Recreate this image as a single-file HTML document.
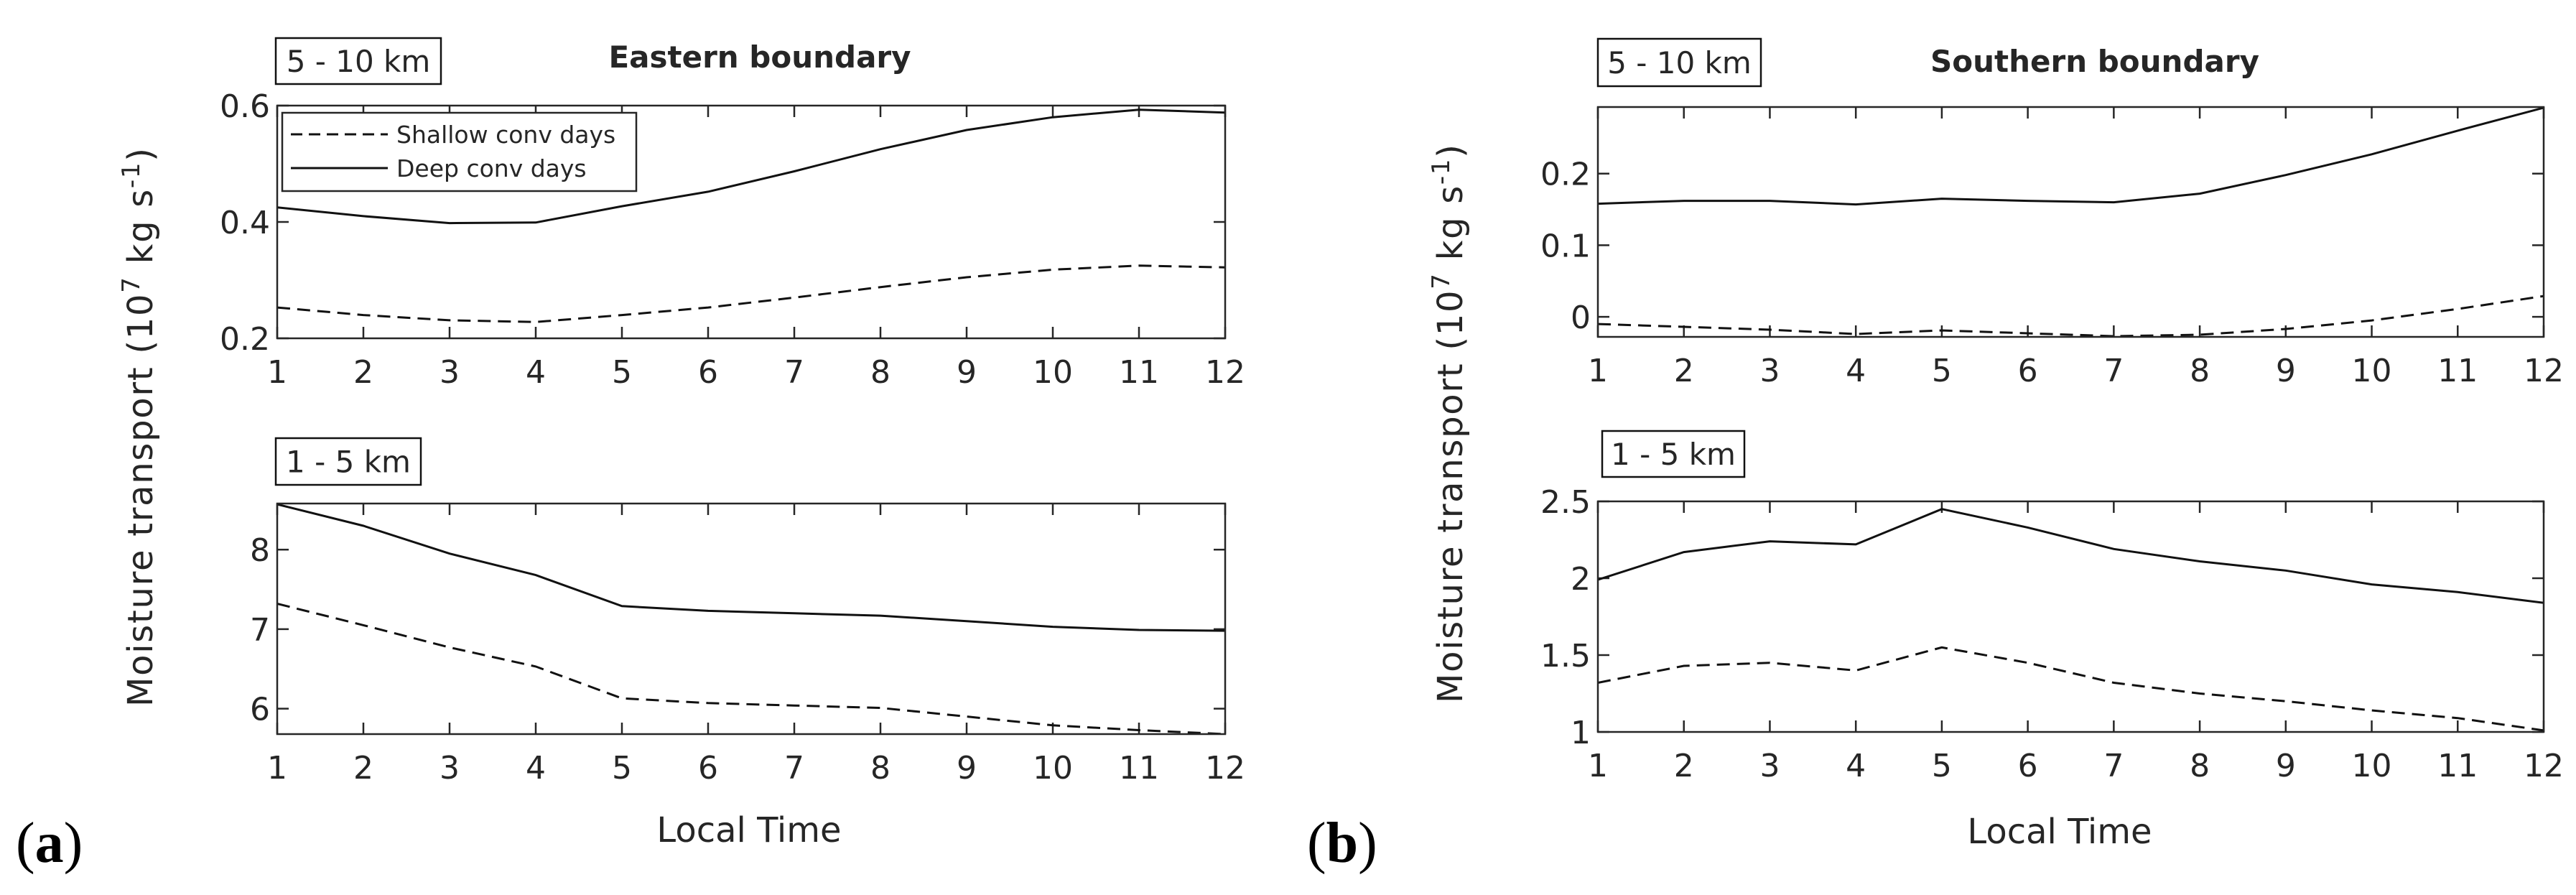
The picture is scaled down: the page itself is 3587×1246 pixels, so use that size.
<!DOCTYPE html>
<html><head><meta charset="utf-8">
<style>
html,body{margin:0;padding:0;background:#fff;}
svg{display:block;}
text{font-family:"DejaVu Sans","Liberation Sans",sans-serif;fill:#262626;}
text.serif{font-family:"Liberation Serif","DejaVu Serif",serif;fill:#000;}
</style></head>
<body>
<svg id="fig" width="3587" height="1246" viewBox="0 0 3587 1246" xmlns="http://www.w3.org/2000/svg">
  <rect x="0" y="0" width="3587" height="1246" fill="#fff"/>
  <g id="root"></g>
</svg>
<script>
const hours = [1,2,3,4,5,6,7,8,9,10,11,12];
const xTicks = [1,2,3,4,5,6,7,8,9,10,11,12];
// Eastern boundary 5-10 km
const eastUpperDeep = [0.425,0.41,0.398,0.399,0.427,0.452,0.487,0.525,0.558,0.58,0.593,0.588];
const eastUpperShallow = [0.253,0.24,0.231,0.228,0.24,0.253,0.27,0.288,0.305,0.318,0.325,0.322];
const eastUpperTicks = [0.2,0.4,0.6];
const eastUpperTickLabels = ["0.2","0.4","0.6"];
// Eastern boundary 1-5 km
const eastLowerDeep = [8.57,8.3,7.95,7.68,7.29,7.23,7.2,7.17,7.1,7.03,6.99,6.98];
const eastLowerShallow = [7.32,7.05,6.77,6.53,6.13,6.07,6.04,6.01,5.9,5.79,5.73,5.68];
const eastLowerTicks = [6,7,8];
const eastLowerTickLabels = ["6","7","8"];
// Southern boundary 5-10 km
const southUpperDeep = [0.158,0.162,0.162,0.157,0.165,0.162,0.16,0.172,0.198,0.227,0.26,0.292];
const southUpperShallow = [-0.01,-0.014,-0.018,-0.024,-0.019,-0.023,-0.027,-0.025,-0.017,-0.005,0.011,0.029];
const southUpperTicks = [0,0.1,0.2];
const southUpperTickLabels = ["0","0.1","0.2"];
// Southern boundary 1-5 km
const southLowerDeep = [1.99,2.17,2.24,2.22,2.45,2.33,2.19,2.11,2.05,1.96,1.91,1.84];
const southLowerShallow = [1.32,1.43,1.45,1.4,1.55,1.45,1.32,1.25,1.2,1.14,1.09,1.01];
const southLowerTicks = [1,1.5,2,2.5];
const southLowerTickLabels = ["1","1.5","2","2.5"];

const NS = "http://www.w3.org/2000/svg";
const root = document.getElementById('root');
function mk(tag, attrs, parent){
  const e = document.createElementNS(NS, tag);
  for (const k in attrs) e.setAttribute(k, attrs[k]);
  (parent||root).appendChild(e);
  return e;
}

function panel(name, box, xr, yr, yTicks, yLabels, deep, shallow, label, labelBox){
  const g = mk('g', {});
  
  
  const [L,T,R,B] = box;
  const sx = v => L + (v - xr[0]) / (xr[1]-xr[0]) * (R-L);
  const sy = v => B - (v - yr[0]) / (yr[1]-yr[0]) * (B-T);
  xTicks.forEach((t,i) => {
    const x = sx(t);
    const tb = mk('line', {x1:x,x2:x,y1:B,y2:B-16,stroke:'#262626','stroke-width':2.5}, g);
    
    
    mk('line', {x1:x,x2:x,y1:T,y2:T+16,stroke:'#262626','stroke-width':2.5}, g);
    const tx = mk('text', {x:x,y:B+62,'font-size':44,'text-anchor':'middle'}, g);
    tx.textContent = String(t);
    
    
  });
  yTicks.forEach((t,i) => {
    const y = sy(t);
    const tl = mk('line', {x1:L,x2:L+16,y1:y,y2:y,stroke:'#262626','stroke-width':2.5}, g);
    
    
    mk('line', {x1:R,x2:R-16,y1:y,y2:y,stroke:'#262626','stroke-width':2.5}, g);
    const ty = mk('text', {x:L-10,y:y+16,'font-size':44,'text-anchor':'end'}, g);
    ty.textContent = yLabels[i];
    
    
  });
  const cid = name + '-clip';
  const cp = mk('clipPath', {id:cid}, g);
  mk('rect', {x:L,y:T,width:R-L,height:B-T}, cp);
  const pts = arr => arr.map((v,i) => sx(hours[i]).toFixed(1)+','+sy(v).toFixed(1)).join(' ');
  const ls = mk('polyline', {points:pts(shallow),fill:'none',stroke:'#111','stroke-width':3,'stroke-dasharray':'18,10','clip-path':'url(#'+cid+')'}, g);
  
  
  const ld = mk('polyline', {points:pts(deep),fill:'none',stroke:'#111','stroke-width':3,'clip-path':'url(#'+cid+')'}, g);
  
  
  const fr = mk('rect', {x:L,y:T,width:R-L,height:B-T,fill:'none',stroke:'#262626','stroke-width':2.5}, g);
  
  
  const [bx,by,bw,bh] = labelBox;
  const lb = mk('rect', {x:bx,y:by,width:bw,height:bh,fill:'#fff',stroke:'#111','stroke-width':2.5}, g);
  
  
  const lt = mk('text', {x:bx+bw/2,y:by+bh/2+15,'font-size':42,'text-anchor':'middle',fill:'#111'}, g);
  lt.textContent = label;
  
  
}

panel('east-upper-plot', [386,147,1706,471], [1,12], [0.2,0.6], eastUpperTicks, eastUpperTickLabels, eastUpperDeep, eastUpperShallow, '5 - 10 km', [384,53,230,64]);
panel('east-lower-plot', [386,701,1706,1022], [1,12], [5.68,8.58], eastLowerTicks, eastLowerTickLabels, eastLowerDeep, eastLowerShallow, '1 - 5 km', [384,610,202,65]);
panel('south-upper-plot', [2225,149,3542,469], [1,12], [-0.028,0.293], southUpperTicks, southUpperTickLabels, southUpperDeep, southUpperShallow, '5 - 10 km', [2225,54,227,66]);
panel('south-lower-plot', [2225,698,3542,1019], [1,12], [1,2.5], southLowerTicks, southLowerTickLabels, southLowerDeep, southLowerShallow, '1 - 5 km', [2231,600,198,64]);

let t = mk('text', {x:1058,y:94,'font-size':42,'font-weight':'bold','text-anchor':'middle',fill:'#000'});
t.textContent = 'Eastern boundary';


t = mk('text', {x:2917,y:100,'font-size':42,'font-weight':'bold','text-anchor':'middle',fill:'#000'});
t.textContent = 'Southern boundary';



function ytitle(name, x, y){
  const g = mk('text', {x:0,y:0,'font-size':48,'text-anchor':'middle',transform:'translate('+x+','+y+') rotate(-90)',textLength:778,lengthAdjust:'spacing'});
  
  
  g.innerHTML = 'Moisture transport (10<tspan dy="-18" font-size="34">7</tspan><tspan dy="18"> kg s</tspan><tspan dy="-18" font-size="34">-1</tspan><tspan dy="18">)</tspan>';
}
ytitle('east-y-axis-title', 212, 595);
ytitle('south-y-axis-title', 2036, 590);

t = mk('text', {x:1043,y:1172,'font-size':48,'text-anchor':'middle'});
t.textContent = 'Local Time';


t = mk('text', {x:2868,y:1174,'font-size':48,'text-anchor':'middle'});
t.textContent = 'Local Time';



t = mk('text', {x:22,y:1200,'font-size':80,'class':'serif',style:'font-family:"Liberation Serif",serif;fill:#000'});
t.innerHTML = '(<tspan font-weight="bold">a</tspan>)';


t = mk('text', {x:1820,y:1200,'font-size':80,'class':'serif',style:'font-family:"Liberation Serif",serif;fill:#000'});
t.innerHTML = '(<tspan font-weight="bold">b</tspan>)';



const lg = mk('g', {});


mk('rect', {x:393,y:157,width:493,height:109,fill:'#fff',stroke:'#262626','stroke-width':2.5}, lg);
let e = mk('line', {x1:405,x2:540,y1:187,y2:187,stroke:'#111','stroke-width':3,'stroke-dasharray':'16,9'}, lg);


e = mk('text', {x:552,y:199,'font-size':33}, lg);
e.textContent = 'Shallow conv days';


e = mk('line', {x1:405,x2:540,y1:234,y2:234,stroke:'#111','stroke-width':3}, lg);


e = mk('text', {x:552,y:246,'font-size':33}, lg);
e.textContent = 'Deep conv days';


</script>
</body></html>
